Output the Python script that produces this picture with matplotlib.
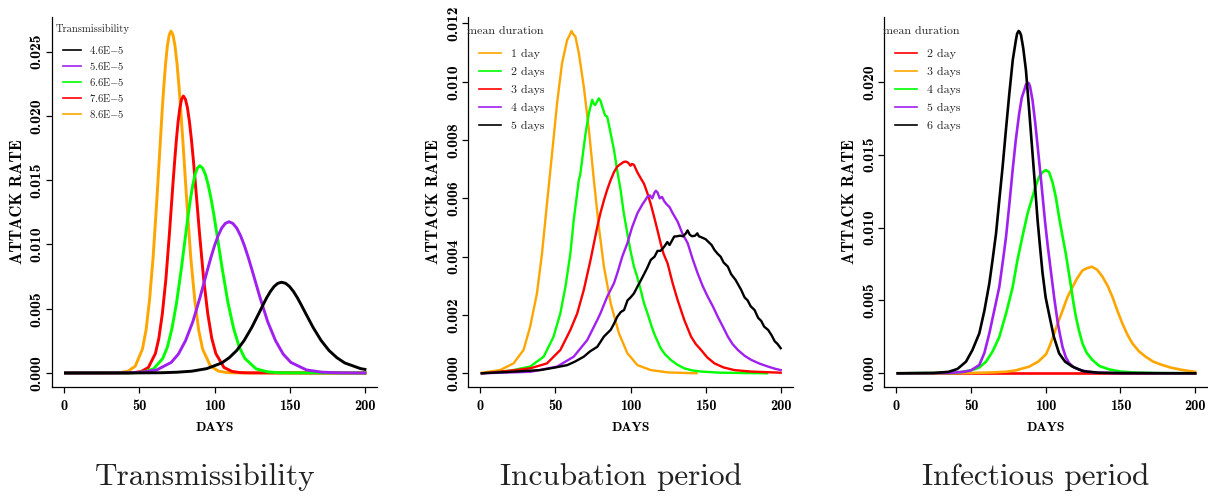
import matplotlib
matplotlib.use("Agg")
import matplotlib.pyplot as plt
from matplotlib.lines import Line2D
from matplotlib.ticker import FormatStrFormatter

# ---- panel 1: transmissibility (days, attack rate) ----
p1_black_days = [1, 45.1, 65.0, 75.0, 84.9, 94.85, 104.8, 109.8, 114.75, 119.7, 124.7, 129.7, 132.16, 134.65, 137.14,
                 139.6, 142.11, 144.6, 147.23, 149.85, 152.48, 155.1, 157.73, 160.35, 165.6, 170.85, 176.1, 181.35,
                 186.6, 197.1, 200]
p1_black = [0, 0.000004, 0.00002, 0.00006, 0.00014, 0.00034, 0.00078, 0.00119, 0.00175, 0.00253, 0.00353, 0.00469,
            0.00528, 0.00585, 0.00634, 0.00673, 0.00698, 0.00706, 0.00698, 0.00673, 0.00634, 0.00585, 0.00528,
            0.00469, 0.00353, 0.00253, 0.00175, 0.00119, 0.00078, 0.00034, 0.00028]
p1_purple_days = [1, 32.8, 42.4, 52.0, 61.6, 71.2, 76.0, 80.8, 85.6, 90.4, 95.2, 97.6, 100.0, 102.4, 104.8, 107.2,
                  109.6, 112.18, 114.75, 117.33, 119.9, 122.48, 125.05, 130.2, 135.35, 140.5, 145.65, 150.8, 161.1,
                  171.4, 181.7, 192.0, 200]
p1_purple = [0, 0.000005, 0.000018, 0.000065, 0.00024, 0.00082, 0.00147, 0.00253, 0.00399, 0.00589, 0.00797,
             0.00898, 0.0099, 0.01068, 0.01128, 0.01164, 0.01177, 0.01164, 0.01128, 0.01068, 0.0099, 0.00898,
             0.00797, 0.00589, 0.00399, 0.00253, 0.00147, 0.00082, 0.00024, 0.000065, 0.000018, 0.000005, 0]
p1_green_days = [1, 41.0, 47.15, 53.3, 59.45, 65.6, 68.7, 71.75, 74.8, 77.9, 81.0, 82.51, 84.05, 85.59, 87.1, 88.66,
                 90.2, 92.08, 93.95, 95.83, 97.7, 99.58, 101.45, 105.2, 108.95, 112.7, 116.45, 120.2, 127.7, 135.2,
                 142.7, 150.2, 200]
p1_green = [0, 0.00001, 0.00002, 0.00009, 0.00032, 0.00113, 0.00202, 0.00347, 0.00547, 0.00807, 0.01092, 0.01231,
            0.01357, 0.01463, 0.01545, 0.01595, 0.01613, 0.01595, 0.01545, 0.01463, 0.01357, 0.01231, 0.01092,
            0.00807, 0.00547, 0.00347, 0.00202, 0.00113, 0.00032, 0.00009, 0.00002, 0.00001, 0]
p1_red_days = [1, 42.1, 46.75, 51.4, 56.05, 60.7, 63.0, 65.35, 67.7, 70.0, 72.3, 73.49, 74.65, 75.81, 77.0, 78.14,
               79.3, 80.65, 82.0, 83.35, 84.7, 86.05, 87.4, 90.1, 92.8, 95.5, 98.2, 100.9, 106.3, 111.7, 117.1,
               122.5, 200]
p1_red = [0, 0.00001, 0.00003, 0.00012, 0.00043, 0.00151, 0.00269, 0.00463, 0.00731, 0.01078, 0.01459, 0.01644,
          0.01812, 0.01955, 0.02065, 0.02131, 0.02155, 0.02131, 0.02065, 0.01955, 0.01812, 0.01644, 0.01459,
          0.01078, 0.00731, 0.00463, 0.00269, 0.00151, 0.00043, 0.00012, 0.00003, 0.00001, 0]
p1_orange_days = [1, 33.1, 37.85, 42.6, 47.35, 52.1, 54.5, 56.85, 59.2, 61.6, 64.0, 65.16, 66.35, 67.54, 68.7,
                  69.91, 71.1, 72.41, 73.7, 75.04, 76.35, 77.66, 79.0, 81.6, 84.2, 86.85, 89.5, 92.1, 97.35, 102.6,
                  107.85, 113.1, 200]
p1_orange = [0, 0.00001, 0.00004, 0.00015, 0.00053, 0.00186, 0.00333, 0.00572, 0.00901, 0.0133, 0.01801, 0.0203,
             0.02237, 0.02413, 0.02548, 0.02631, 0.0266, 0.02631, 0.02548, 0.02413, 0.02237, 0.0203, 0.01801,
             0.0133, 0.00901, 0.00572, 0.00333, 0.00186, 0.00053, 0.00015, 0.00004, 0.00001, 0]

# ---- panel 2: incubation period ----
p2_orange_days = [1, 13.2, 22.1, 28.8, 33.2, 37.7, 41.1, 44.4, 47.8, 51.1, 54.4, 57.8, 59.5, 60.7, 62.0, 63.3, 65.6,
                  68.9, 72.3, 75.6, 78.9, 82.3, 86.8, 92.3, 97.9, 104.6, 113.5, 125.0, 144.0]
p2_orange = [0.00002, 0.00011, 0.00034, 0.0008, 0.0016, 0.00274, 0.00412, 0.00583, 0.00755, 0.00926, 0.01063,
             0.01143, 0.0116, 0.01174, 0.01162, 0.01155, 0.01098, 0.00983, 0.00835, 0.00663, 0.00503, 0.00366,
             0.0024, 0.00137, 0.00069, 0.00028, 0.00011, 0.00003, 0.0]
p2_green_days = [1, 19.9, 33.2, 42.2, 48.8, 53.3, 56.7, 60.0, 62.2, 64.3, 65.6, 66.5, 67.8, 70.0, 72.3, 74.5, 75.5,
                 76.5, 77.5, 78.9, 80.0, 81.5, 83.0, 84.5, 86.5, 89.0, 91.0, 93.4, 95.5, 97.9, 100.0, 102.3, 104.5,
                 106.8, 109.0, 111.3, 113.5, 115.7, 118.0, 120.1, 123.0, 126.8, 131.0, 135.8, 141.0, 147.0, 160.0,
                 175.0, 191.0]
p2_green = [0.0, 0.00009, 0.00023, 0.00057, 0.00126, 0.00206, 0.00297, 0.00412, 0.00526, 0.0061, 0.00663, 0.0068,
            0.00732, 0.0082, 0.00892, 0.00938, 0.00925, 0.0092, 0.0093, 0.00943, 0.00935, 0.0091, 0.00885, 0.0088,
            0.0083, 0.00766, 0.007, 0.00629, 0.0055, 0.0048, 0.0042, 0.00366, 0.0033, 0.00286, 0.0024, 0.00206,
            0.0017, 0.00137, 0.0011, 0.00086, 0.00065, 0.00046, 0.0003, 0.00017, 0.0001, 0.00006, 0.00002,
            0.00001, 0.0]
p2_red_days = [1, 19.9, 33.2, 44.4, 53.3, 60.0, 64.5, 68.9, 73.4, 77.9, 80.0, 82.4, 84.5, 86.8, 89.0, 91.2, 93.5,
               95.5, 97.0, 98.5, 100.0, 101.0, 102.3, 104.5, 106.8, 109.0, 111.3, 113.5, 115.7, 118.0, 120.1, 122.0,
               124.7, 128.0, 131.4, 135.8, 140.3, 143.5, 147.0, 151.0, 155.9, 162.0, 169.2, 180.0, 200.0]
p2_red = [0.0, 0.00009, 0.00017, 0.00034, 0.0008, 0.00149, 0.00205, 0.00286, 0.00389, 0.00503, 0.0055, 0.00595,
          0.0063, 0.00663, 0.0069, 0.00709, 0.00718, 0.00725, 0.00726, 0.00722, 0.00712, 0.00718, 0.00715, 0.0069,
          0.00669, 0.0065, 0.00617, 0.0058, 0.00537, 0.0049, 0.00445, 0.0041, 0.00377, 0.0031, 0.00251, 0.00183,
          0.00126, 0.001, 0.0008, 0.00055, 0.00034, 0.0002, 0.00011, 0.00006, 0.00002]
p2_purple_days = [1, 33.2, 51.1, 62.2, 71.2, 77.9, 80.0, 84.5, 89.0, 91.2, 94.5, 97.9, 101.0, 104.6, 108.0, 110.0,
                  111.3, 113.0, 114.5, 116.0, 116.9, 118.0, 119.5, 121.0, 122.5, 124.0, 126.0, 128.0, 131.4, 134.5,
                  138.1, 141.5, 144.7, 148.0, 151.4, 154.8, 158.1, 161.5, 164.8, 168.0, 171.5, 176.0, 180.4, 186.0,
                  191.6, 196.0, 200.0]
p2_purple = [0.0, 0.00005, 0.00023, 0.00057, 0.00114, 0.00183, 0.00206, 0.00263, 0.00309, 0.00343, 0.004, 0.00446,
             0.005, 0.00549, 0.0058, 0.00595, 0.00606, 0.0061, 0.006, 0.0062, 0.00626, 0.0062, 0.006, 0.00605,
             0.0059, 0.0058, 0.0057, 0.0055, 0.0052, 0.0048, 0.00446, 0.0039, 0.00343, 0.003, 0.00263, 0.0023,
             0.00194, 0.0016, 0.00126, 0.001, 0.0008, 0.0006, 0.00046, 0.00033, 0.00023, 0.00016, 0.00011]
p2_black_days = [1, 20.0, 39.9, 50.0, 57.8, 63.0, 68.9, 73.0, 77.9, 82.3, 86.8, 89.0, 91.2, 93.5, 95.7, 98.0, 100.0,
                 102.3, 104.6, 107.0, 109.0, 111.0, 113.5, 116.0, 118.0, 120.0, 122.4, 124.5, 126.0, 129.1, 131.0,
                 133.0, 135.0, 136.9, 138.0, 139.5, 141.0, 143.0, 144.5, 145.5, 147.0, 150.0, 152.0, 154.0, 155.9,
                 158.0, 160.0, 162.0, 164.8, 167.0, 170.0, 173.7, 176.0, 178.0, 180.0, 182.6, 185.0, 187.0, 189.0,
                 191.6, 194.0, 196.0, 198.0, 200.0]
p2_black = [0.0, 0.00005, 0.00011, 0.0002, 0.00028, 0.0004, 0.00057, 0.00075, 0.00091, 0.00126, 0.00149, 0.0017,
            0.00194, 0.0021, 0.00217, 0.0025, 0.0026, 0.00274, 0.00297, 0.0032, 0.0034, 0.0036, 0.00389, 0.004,
            0.0042, 0.0042, 0.00434, 0.0045, 0.0044, 0.00469, 0.0047, 0.00472, 0.0047, 0.0048, 0.0049, 0.00475,
            0.0047, 0.00472, 0.0048, 0.0047, 0.00467, 0.0046, 0.0045, 0.0044, 0.00423, 0.0041, 0.004, 0.0038,
            0.00366, 0.0034, 0.0032, 0.00286, 0.0026, 0.0025, 0.0023, 0.00217, 0.0019, 0.0018, 0.0016, 0.00149,
            0.0013, 0.0011, 0.001, 0.00086]

# ---- panel 3: infectious period ----
p3_red_days = [1, 50, 100, 150, 200]
p3_red = [0, 0, 0, 0, 0]
p3_orange_days = [1, 50, 65, 73.5, 80, 89, 95, 100.2, 102.4, 104.6, 108, 111.3, 114.5, 117.9, 121, 124.6, 127.5,
                  130.9, 134.5, 138, 141.5, 144.6, 148, 151.3, 154.5, 158, 162.5, 166.9, 172, 178, 184.5, 191.4, 200]
p3_orange = [0, 0.00002, 0.00006, 0.00011, 0.0002, 0.00046, 0.0008, 0.0013, 0.0018, 0.0024, 0.0034, 0.0043, 0.0052,
             0.0059, 0.0065, 0.00705, 0.0072, 0.00731, 0.0071, 0.00663, 0.006, 0.00526, 0.0043, 0.00343, 0.0027,
             0.00206, 0.0015, 0.00114, 0.0008, 0.00057, 0.00037, 0.00023, 0.0001]
p3_green_days = [1, 40, 50, 55.6, 60.1, 64.5, 69, 73.5, 77.9, 81, 84.5, 88, 91.2, 93.5, 95.7, 98, 100.2, 102.3,
                 104.6, 106.8, 109, 111.3, 113.5, 115.2, 116.9, 118.5, 120.2, 122.4, 124.6, 127.5, 131.3, 136, 142.4,
                 150, 158, 175, 200]
p3_green = [0, 0.00003, 0.0002, 0.0004, 0.0008, 0.0015, 0.0025, 0.0041, 0.0059, 0.0077, 0.0094, 0.011, 0.0121,
            0.0129, 0.0135, 0.0138, 0.01394, 0.0138, 0.0131, 0.0121, 0.0107, 0.0094, 0.0082, 0.0071, 0.006, 0.0049,
            0.0039, 0.0029, 0.00206, 0.0014, 0.00091, 0.0005, 0.00027, 0.00012, 0.00006, 0.00001, 0]
p3_purple_days = [1, 35, 45, 50, 55.6, 59, 62.3, 66, 69, 71.5, 73.5, 75.8, 77.9, 80, 82.3, 84, 85.7, 86.8, 87.9,
                  88.7, 89.5, 91.2, 93, 94.6, 96.3, 97.9, 99.5, 101.2, 103.5, 105.7, 107.9, 109.5, 111.3, 113.5,
                  115.7, 119, 122.4, 128, 135.8, 150, 200]
p3_purple = [0, 0.00002, 0.0001, 0.0002, 0.00057, 0.0014, 0.00274, 0.0045, 0.00594, 0.0078, 0.00937, 0.0117,
             0.01394, 0.016, 0.01783, 0.0189, 0.01943, 0.0198, 0.01993, 0.0199, 0.0197, 0.01874, 0.0172, 0.0156,
             0.0139, 0.0122, 0.0105, 0.0089, 0.007, 0.0052, 0.0036, 0.0027, 0.0018, 0.0011, 0.0007, 0.0004,
             0.00025, 0.0001, 0.00004, 0.00001, 0]
p3_black_days = [1, 25, 35, 41, 46.7, 51, 55.6, 59, 62.3, 64.5, 66.8, 69, 71.2, 73.5, 75.7, 78, 80.1, 80.9, 81.9,
                 82.7, 83.5, 85, 86.8, 89, 91.2, 93, 94.6, 96.3, 97.9, 100, 102.4, 105.5, 109, 113, 117.9, 125, 135,
                 150, 200]
p3_black = [0, 0.00002, 0.0001, 0.0003, 0.0008, 0.0016, 0.00274, 0.0043, 0.00617, 0.0078, 0.0096, 0.0119, 0.01417,
            0.0168, 0.0192, 0.0215, 0.02286, 0.0233, 0.02348, 0.0234, 0.0232, 0.0223, 0.0208, 0.018, 0.0151, 0.0127,
            0.0105, 0.0086, 0.0069, 0.0052, 0.004, 0.0025, 0.00137, 0.0008, 0.00046, 0.00015, 0.00004, 0.00001, 0]

p1_labels = ["4.6E$-$5", "5.6E$-$5", "6.6E$-$5", "7.6E$-$5", "8.6E$-$5"]
p2_labels = ["1 day", "2 days", "3 days", "4 days", "5 days"]
p3_labels = ["2 day", "3 days", "4 days", "5 days", "6 days"]
titles = ["Transmissibility", "Incubation period", "Infectious period"]

ORANGE = "#FFA500"
GREEN = "#00FF00"
RED = "#FF0000"
PURPLE = "#A020F0"
BLACK = "#000000"

plt.rcParams["mathtext.fontset"] = "cm"
plt.rcParams["axes.unicode_minus"] = False

W, H = 1208, 498
fig = plt.figure(figsize=(W / 100, H / 100), dpi=100)


def add_panel(left, right, top=17, bottom=387):
    return fig.add_axes([left / W, 1 - bottom / H, (right - left) / W, (bottom - top) / H])


def style_panel(ax, ylim, yticks, ylabel_x):
    ax.set_xlim(-8, 208)
    ax.set_ylim(*ylim)
    ax.set_xticks([0, 50, 100, 150, 200])
    ax.set_yticks(yticks)
    ax.yaxis.set_major_formatter(FormatStrFormatter("%.3f"))
    for s in ["top", "right"]:
        ax.spines[s].set_visible(False)
    for s in ["left", "bottom"]:
        ax.spines[s].set_linewidth(0.9)
    ax.tick_params(axis="both", direction="out", length=4, width=0.9)
    ax.tick_params(axis="x", pad=4.5)
    ax.tick_params(axis="y", pad=2)
    plt.setp(ax.get_xticklabels(), fontfamily="cmb10", fontsize=10.3)
    plt.setp(ax.get_yticklabels(), fontfamily="cmb10", fontsize=11.3, rotation=90, va="center", ha="right")
    ax.set_xlabel("DAYS", fontfamily="cmb10", fontsize=9.8, va="center")
    ax.set_ylabel("ATTACK RATE", fontfamily="cmb10", fontsize=11.8, va="center")
    ax.xaxis.set_label_coords(0.5, -(428 - 387) / 370)
    ax.yaxis.set_label_coords(ylabel_x, 0.5)


def add_legend(ax, colors, labels, title, title_xy, anchor_xy, fs, hl, spacing):
    handles = [Line2D([], [], color=c, lw=1.2) for c in colors]
    leg = ax.legend(handles=handles, labels=labels, loc="upper left",
                    bbox_to_anchor=(anchor_xy[0] / W, 1 - anchor_xy[1] / H), bbox_transform=fig.transFigure,
                    frameon=False, prop={"family": "cmr10", "size": fs}, handlelength=hl, handletextpad=0.8,
                    labelspacing=spacing, borderpad=0, borderaxespad=0)
    for t in leg.get_texts():
        t.set_color("#222222")
    fig.text(title_xy[0] / W, 1 - title_xy[1] / H, title, family="cmr10", size=fs, color="#222222",
             ha="left", va="center")


# panel 1
ax1 = add_panel(52, 377)
ax1.plot(p1_orange_days, p1_orange, color=ORANGE, lw=2.1)
ax1.plot(p1_red_days, p1_red, color=RED, lw=2.1)
ax1.plot(p1_green_days, p1_green, color=GREEN, lw=2.1)
ax1.plot(p1_purple_days, p1_purple, color=PURPLE, lw=2.1)
ax1.plot(p1_black_days, p1_black, color=BLACK, lw=2.1)
style_panel(ax1, (-0.00109, 0.0277), [0, 0.005, 0.010, 0.015, 0.020, 0.025], (18 - 52) / 325)
add_legend(ax1, [BLACK, PURPLE, GREEN, RED, ORANGE], p1_labels, "Transmissibility", (56, 29), (62.5, 43.5),
           7.6, 1.75, 0.38)

# panel 2
ax2 = add_panel(468.3, 792.7)
ax2.plot(p2_orange_days, p2_orange, color=ORANGE, lw=1.7)
ax2.plot(p2_green_days, p2_green, color=GREEN, lw=1.7)
ax2.plot(p2_red_days, p2_red, color=RED, lw=1.7)
ax2.plot(p2_purple_days, p2_purple, color=PURPLE, lw=1.7)
ax2.plot(p2_black_days, p2_black, color=BLACK, lw=1.7)
style_panel(ax2, (-0.00047, 0.01222), [0, 0.002, 0.004, 0.006, 0.008, 0.010, 0.012], (433 - 468.3) / 324.4)
add_legend(ax2, [ORANGE, GREEN, RED, PURPLE, BLACK], p2_labels, "mean duration", (467, 31.7), (479, 49),
           8.6, 1.85, 0.64)

# panel 3
ax3 = add_panel(884.3, 1207)
ax3.plot(p3_red_days, p3_red, color=RED, lw=1.9)
ax3.plot(p3_orange_days, p3_orange, color=ORANGE, lw=1.9)
ax3.plot(p3_green_days, p3_green, color=GREEN, lw=1.9)
ax3.plot(p3_purple_days, p3_purple, color=PURPLE, lw=1.9)
ax3.plot(p3_black_days, p3_black, color=BLACK, lw=1.9)
style_panel(ax3, (-0.00094, 0.02444), [0, 0.005, 0.010, 0.015, 0.020], (850 - 884.3) / 322.7)
add_legend(ax3, [RED, ORANGE, GREEN, PURPLE, BLACK], p3_labels, "mean duration", (883, 31.7), (895, 49),
           8.6, 1.85, 0.64)

# captions under each panel
for x, t in zip([205, 621, 1036], titles):
    fig.text(x / W, 1 - 477 / H, t, family="cmr10", size=22.5, ha="center", va="center", color="#222222")

fig.savefig("out.png", dpi=100)
